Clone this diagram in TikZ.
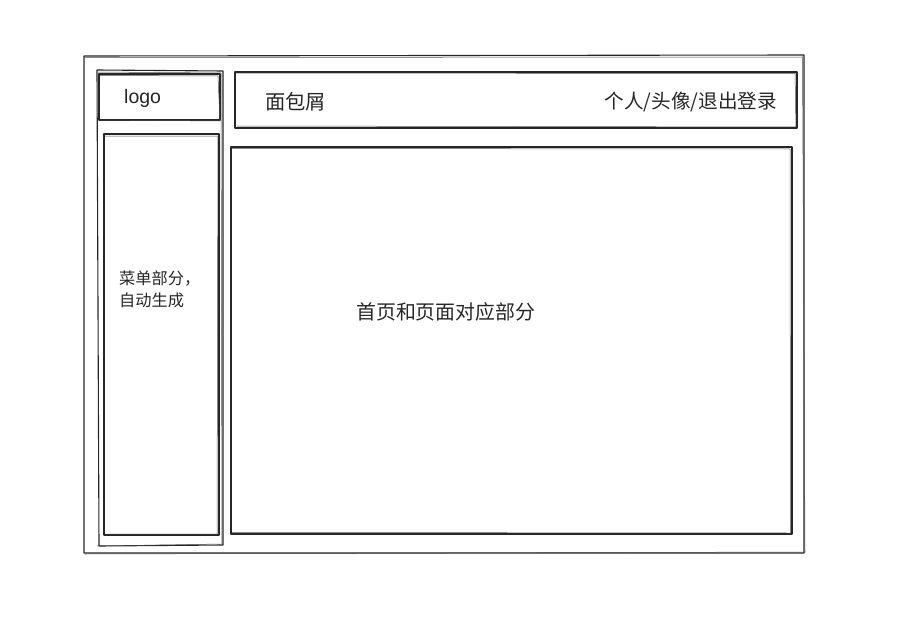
\documentclass[tikz,border=0pt]{standalone}
\usepackage{fontspec}
\setmainfont{Liberation Sans}
\newfontfamily\cjk{Noto Sans CJK SC}
\begin{document}
\begin{tikzpicture}[x=1pt,y=-1pt,
  sk/.style={draw=black!85,line width=1.1pt,line join=round},
  sk2/.style={draw=black!70,line width=0.5pt},
  lbl/.style={inner sep=0pt,text=black!85}]
\useasboundingbox (0,0) rectangle (903,618);
% outer frame
\draw[sk] (84,56) -- (804,55) -- (804,553) -- (84,553) -- cycle;
\draw[sk2] (85,57.5) -- (802.5,57) -- (805,552) -- (85,554);
% sidebar
\draw[sk] (97,70) -- (223,71) -- (223,545) -- (99,546) -- cycle;
\draw[sk2] (98,72) -- (221,73) -- (222,544) -- (97,546);
% logo box
\node[sk,minimum width=121pt,minimum height=46pt,inner sep=0pt] (logo) at (159.5,97) {};
\draw[sk2] (100,75.5) -- (218,76) -- (220,121) -- (100,120);
\node[lbl,anchor=west,font=\fontsize{19.5}{20}\selectfont] (logot) at (124,98.5) {logo};
% menu box
\node[sk,minimum width=115pt,minimum height=401pt,inner sep=0pt] (menu) at (161.5,334.5) {};
\draw[sk2] (105,136) -- (218,136) -- (217,534) -- (106,534);
\node[lbl,anchor=west,font=\cjk\fontsize{16.2}{22}\selectfont,align=left] (menut) at (119,289) {菜单部分，\\自动生成};
% header
\node[sk,minimum width=562pt,minimum height=56pt,inner sep=0pt] (header) at (516,100) {};
\draw[sk2] (236,73) -- (795,73.5) -- (796,127) -- (237,126);
\node[lbl,anchor=west,font=\cjk\fontsize{20.3}{20}\selectfont] (crumb) at (265,102) {面包屑};
\node[lbl,anchor=east,font=\cjk\fontsize{19.6}{20}\selectfont] (user) at (777,102) {个人/头像/退出登录};
% content
\node[sk,minimum width=561pt,minimum height=387pt,inner sep=0pt] (content) at (511.5,340.5) {};
\draw[sk2] (232,148.5) -- (790,149) -- (790.5,533) -- (232,532.5);
\node[lbl,anchor=west,font=\cjk\fontsize{19.9}{20}\selectfont] (main) at (356,312) {首页和页面对应部分};
\end{tikzpicture}
\end{document}
